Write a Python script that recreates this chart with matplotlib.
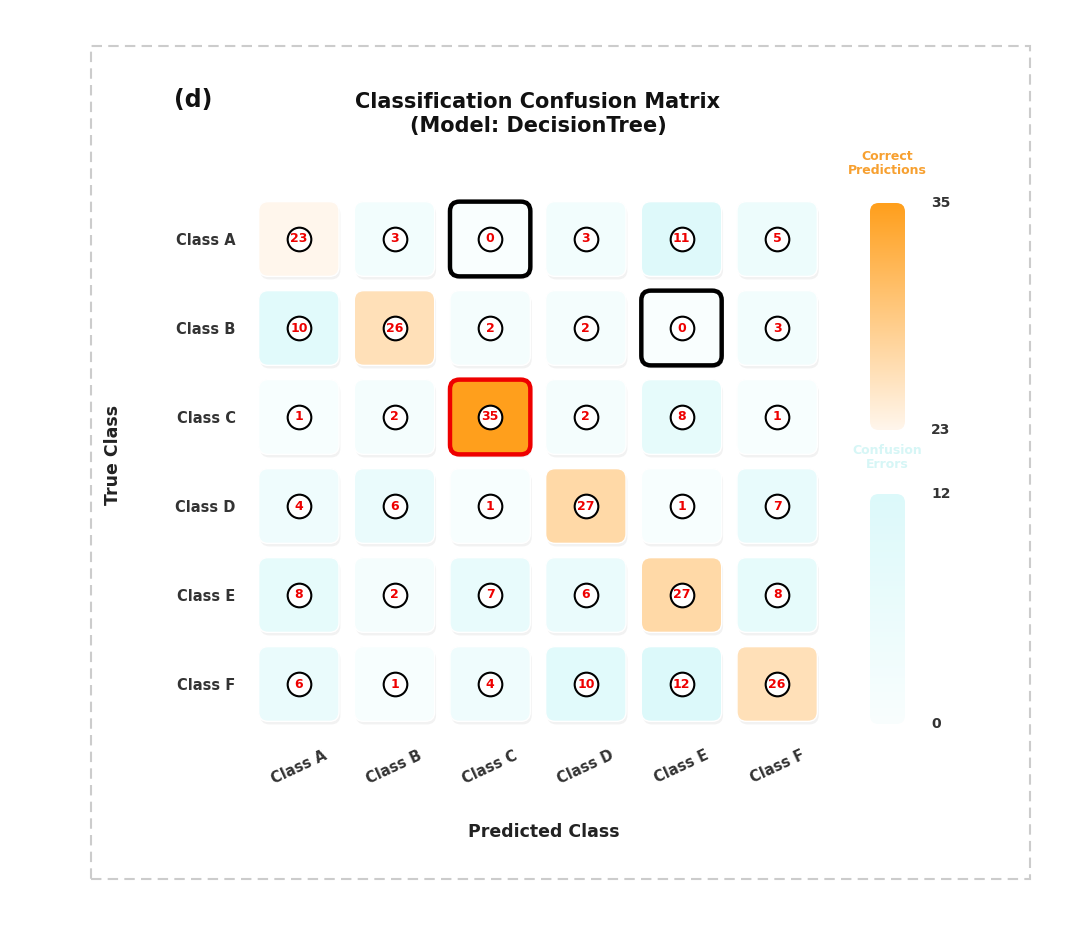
import numpy as np
import matplotlib.pyplot as plt
from matplotlib.patches import FancyBboxPatch, Rectangle
from matplotlib.colors import LinearSegmentedColormap, Normalize

classes = ['Class A', 'Class B', 'Class C', 'Class D', 'Class E', 'Class F']
row_A = [23, 3, 0, 3, 11, 5]
row_B = [10, 26, 2, 2, 0, 3]
row_C = [1, 2, 35, 2, 8, 1]
row_D = [4, 6, 1, 27, 1, 7]
row_E = [8, 2, 7, 6, 27, 8]
row_F = [6, 1, 4, 10, 12, 26]
matrix = np.array([row_A, row_B, row_C, row_D, row_E, row_F])

FONT = 'DejaVu Sans'
plt.rcParams['font.family'] = [FONT]

W, H = 1080, 925
fig = plt.figure(figsize=(W / 100, H / 100), dpi=100)

def fx(px):
    return px / W

def fy(py):
    return 1 - py / H

# dashed frame
fig.patches.append(Rectangle((fx(91), fy(879)), fx(1030) - fx(91), fy(46) - fy(879),
                             transform=fig.transFigure, fill=False, ec='#cccccc',
                             lw=1.5, ls=(0, (5, 3)), zorder=0))

cmap_diag = LinearSegmentedColormap.from_list('diag', ['#fff6ec', '#ff9f1c'])
cmap_off = LinearSegmentedColormap.from_list('off', ['#f9fefe', '#dcf9fa'])
diag = np.diag(matrix)
off = matrix[~np.eye(6, dtype=bool)]
norm_diag = Normalize(diag.min(), diag.max())
norm_off = Normalize(0, off.max())

ax = fig.add_axes([fx(251), fy(728.5), fx(825) - fx(251), fy(194.5) - fy(728.5)])
ax.set_xlim(-0.5, 5.5)
ax.set_ylim(5.5, -0.5)
for s in ax.spines.values():
    s.set_visible(False)

n = len(classes)
cw, ch = 0.84, 0.84
ma = 1.07
for i in range(n):
    for j in range(n):
        v = matrix[i, j]
        if i == j:
            fc = cmap_diag(norm_diag(v))
        else:
            fc = cmap_off(norm_off(v))
        if v == 0:
            ec, lw = 'black', 3.2
        elif i == j and v == diag.max():
            ec, lw = '#ee0000', 3.2
        else:
            ec, lw = 'white', 1.0
        sh = FancyBboxPatch((j - cw / 2 + 0.015, i - ch / 2 + 0.035), cw, ch,
                            boxstyle='round,pad=0,rounding_size=0.1', mutation_aspect=ma,
                            fc='#000000', ec='none', alpha=0.05, zorder=1)
        ax.add_patch(sh)
        box = FancyBboxPatch((j - cw / 2, i - ch / 2), cw, ch,
                             boxstyle='round,pad=0,rounding_size=0.1', mutation_aspect=ma,
                             fc=fc, ec=ec, lw=lw, zorder=2)
        ax.add_patch(box)
        ax.scatter([j], [i], s=290, facecolor='white', edgecolor='black', linewidth=1.5, zorder=5)
        ax.text(j, i, str(v), ha='center', va='center', color='#ee0000',
                fontsize=9, fontweight='bold', zorder=6)

ax.set_xticks(range(n))
ax.set_xticklabels(classes, rotation=25, ha='center', fontsize=10.5,
                   fontweight='bold', color='#333333')
ax.set_yticks(range(n))
ax.set_yticklabels(classes, fontsize=10.5, fontweight='bold', color='#333333')
ax.tick_params(length=0, axis='x', pad=14)
ax.tick_params(length=0, axis='y', pad=11)

# colorbars
def colorbar(y0, y1, cmap, vmin, vmax, label, lcolor, ly):
    cax = fig.add_axes([fx(870), fy(y1), fx(905) - fx(870), fy(y0) - fy(y1)])
    cax.set_axis_off()
    grad = np.linspace(vmin, vmax, 256)[:, None]
    im = cax.imshow(grad, cmap=cmap, vmin=vmin, vmax=vmax, origin='lower',
                    aspect='auto', extent=[0, 1, 0, 1], transform=cax.transAxes)
    clip = FancyBboxPatch((0, 0), 1, 1, boxstyle='round,pad=0,rounding_size=0.25',
                          mutation_aspect=35 / (y1 - y0), transform=cax.transAxes,
                          fc='none', ec='none')
    cax.add_patch(clip)
    im.set_clip_path(clip)
    cax.set_xlim(0, 1)
    cax.set_ylim(0, 1)
    fig.text(fx(931), fy(y0), str(vmax), ha='left', va='center', fontsize=10,
             fontweight='bold', color='#333333')
    fig.text(fx(931), fy(y1), str(vmin), ha='left', va='center', fontsize=10,
             fontweight='bold', color='#333333')
    fig.text(fx(887), fy(ly), label, ha='center', va='center', fontsize=9,
             fontweight='bold', color=lcolor, linespacing=1.1)

colorbar(203, 430, cmap_diag, int(diag.min()), int(diag.max()), 'Correct\nPredictions', '#f7a030', 164)
colorbar(494, 724, cmap_off, 0, int(off.max()), 'Confusion\nErrors', '#d6f6f6', 457)

fig.text(fx(538), fy(114), 'Classification Confusion Matrix\n(Model: DecisionTree)',
         ha='center', va='center', fontsize=15, fontweight='bold', color='#111111',
         linespacing=1.25)
fig.text(fx(193), fy(100), '(d)', ha='center', va='center', fontsize=17,
         fontweight='bold', color='#111111')
fig.text(fx(113), fy(455), 'True Class', ha='center', va='center', rotation=90,
         fontsize=12.5, fontweight='bold', color='#222222')
fig.text(fx(544), fy(832), 'Predicted Class', ha='center', va='center',
         fontsize=12.5, fontweight='bold', color='#222222')

fig.savefig('out.png', dpi=100, facecolor='white')
